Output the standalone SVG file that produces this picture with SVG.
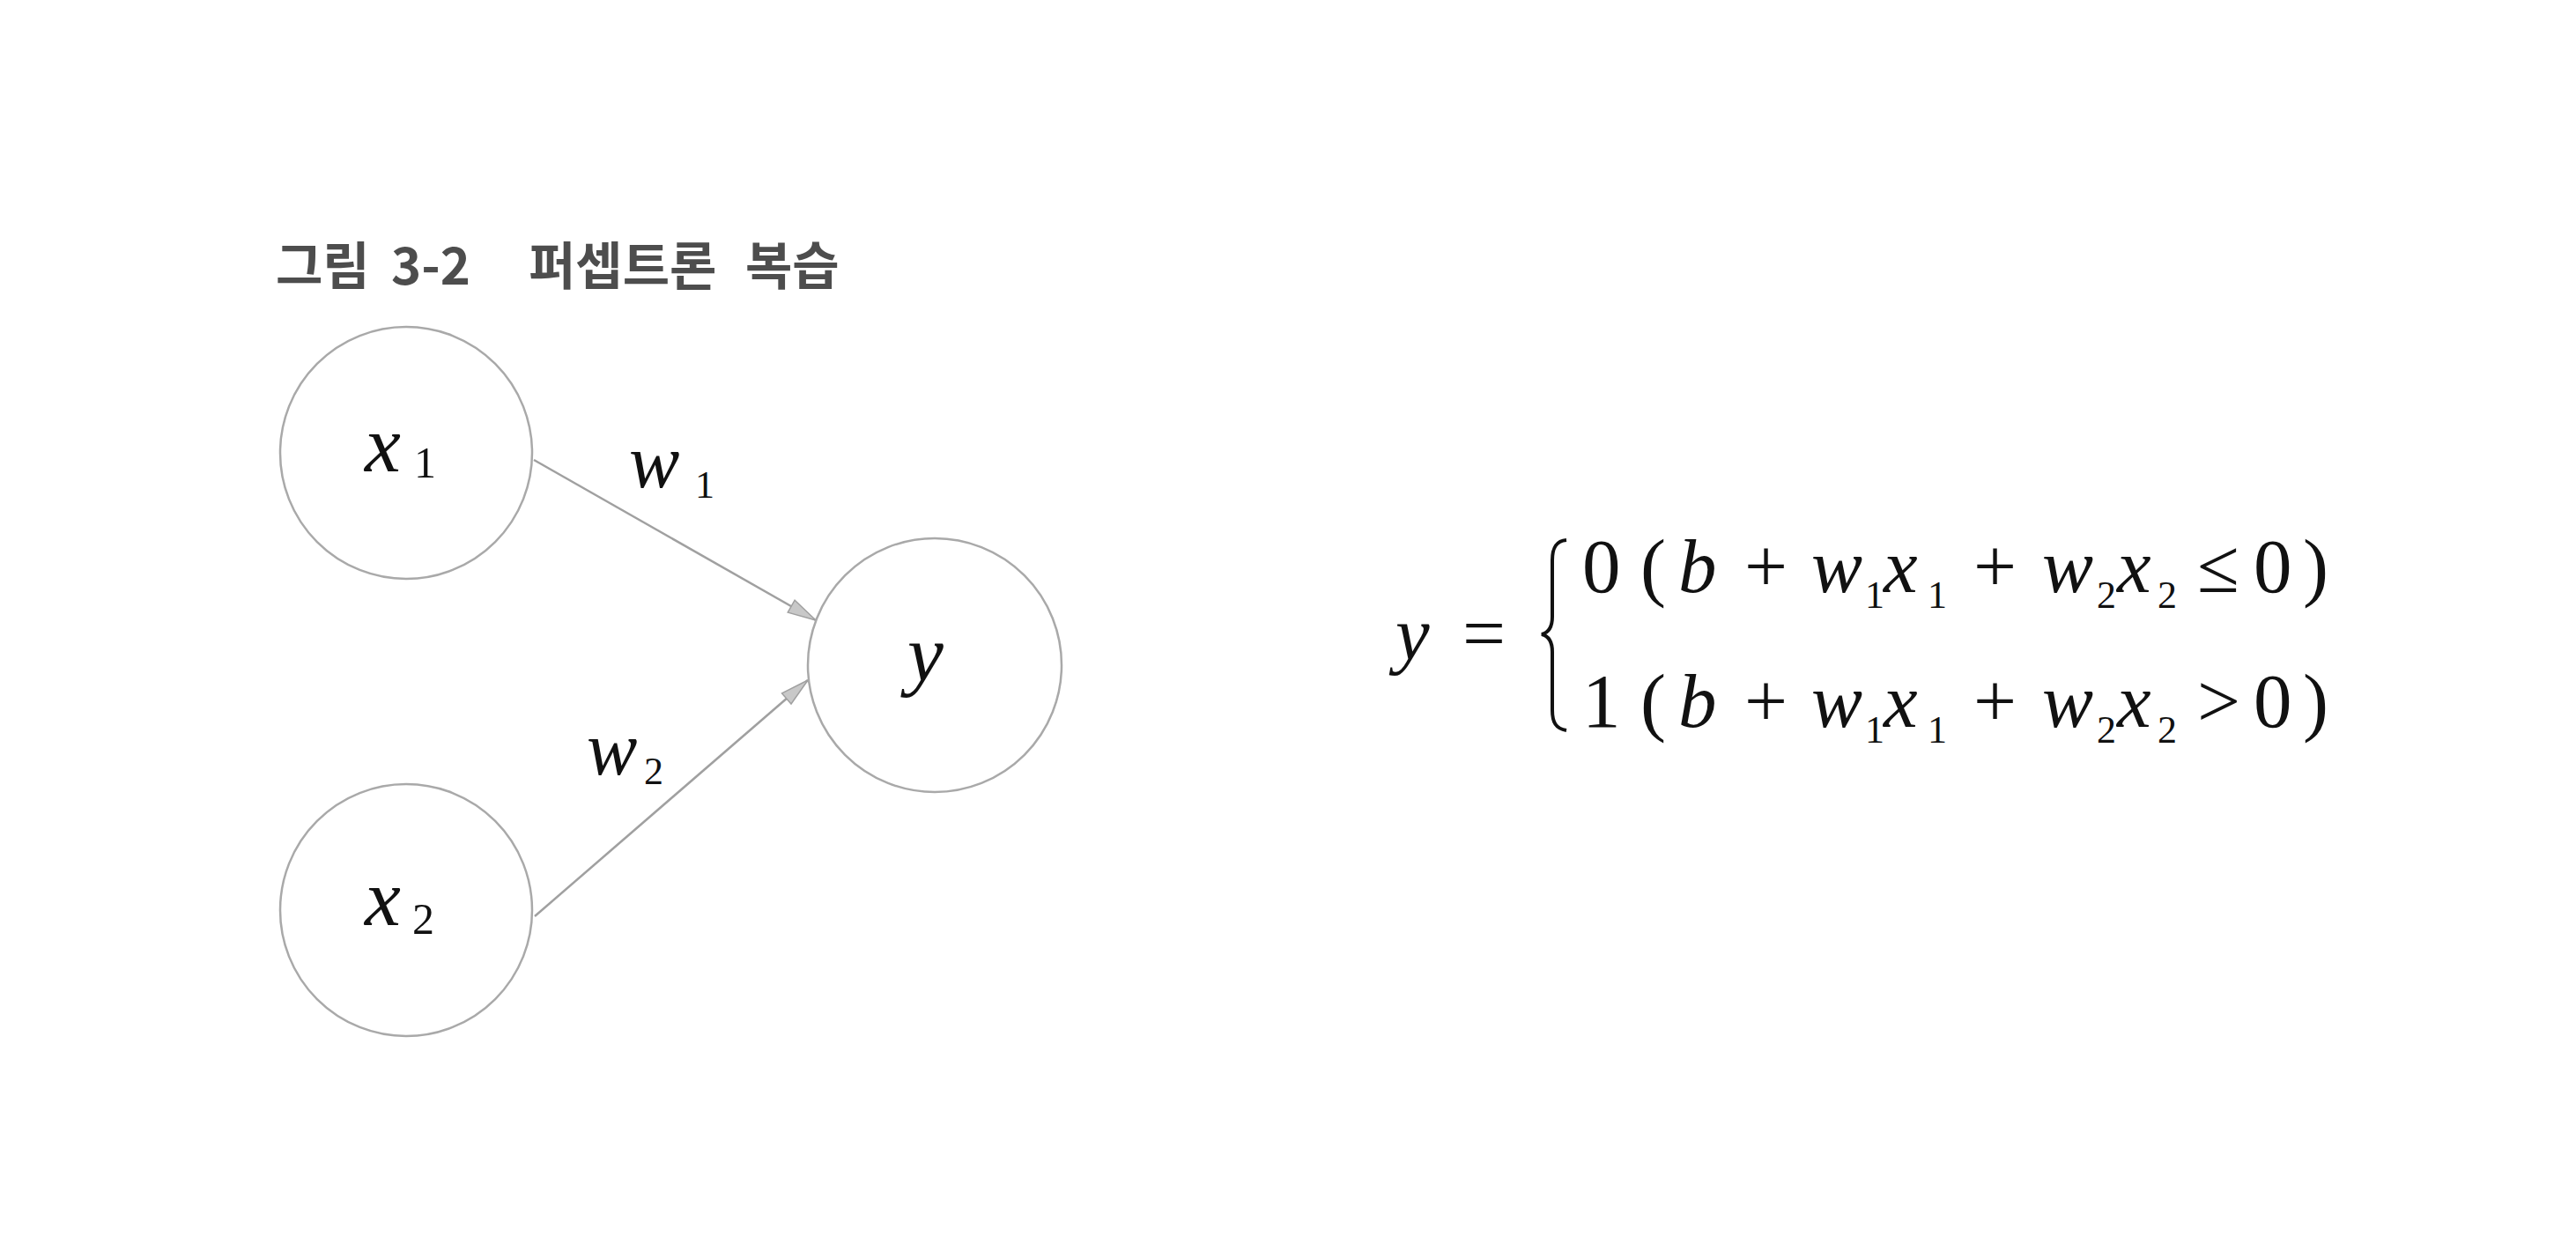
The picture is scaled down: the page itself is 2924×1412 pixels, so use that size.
<svg xmlns="http://www.w3.org/2000/svg" width="2924" height="1412" viewBox="0 0 2924 1412">
<style>
.node{fill:#fff;stroke:#a9a9a9;stroke-width:2.5}
.v{font-family:"Liberation Serif",serif;font-style:italic;fill:#111}
.n{font-family:"Liberation Serif",serif;fill:#111}
.conn{stroke:#a0a0a0;stroke-width:2.5;fill:none}
.title{font-family:"Noto Sans CJK KR","Noto Sans",sans-serif;font-weight:bold;font-size:58px;fill:#4d4d4d}
.eq{font-size:87px}
.sub{font-size:44px}
</style>
<defs>
<marker id="ah" markerUnits="userSpaceOnUse" markerWidth="40" markerHeight="24" refX="34" refY="10" orient="auto">
<path d="M2,2 L34,10 L2,18 Z" fill="#c8c8c8" stroke="#a0a0a0" stroke-width="1.5"/>
</marker>
</defs>
<rect width="2924" height="1412" fill="#fff"/>
<g id="title">
<text class="title" x="313" y="323">그림</text>
<text class="title" x="444" y="323">3-2</text>
<text class="title" x="600" y="323">퍼셉트론</text>
<text class="title" x="846" y="323">복습</text>
</g>
<g id="connectors">
<line class="conn" x1="606" y1="522" x2="926" y2="704" marker-end="url(#ah)"/>
<line class="conn" x1="607" y1="1040" x2="917" y2="772" marker-end="url(#ah)"/>
<text class="v" x="714" y="553" font-size="86">w</text>
<text class="n" x="789" y="565" font-size="44">1</text>
<text class="v" x="666" y="879" font-size="86">w</text>
<text class="n" x="731" y="890" font-size="44">2</text>
</g>
<g id="node-x1">
<circle class="node" cx="461" cy="514" r="143"/>
<text class="v" x="414" y="535" font-size="92">x</text>
<text class="n" x="470" y="542" font-size="50">1</text>
</g>
<g id="node-x2">
<circle class="node" cx="461" cy="1033" r="143"/>
<text class="v" x="414" y="1050" font-size="92">x</text>
<text class="n" x="468" y="1060" font-size="50">2</text>
</g>
<g id="node-y">
<circle class="node" cx="1061" cy="755" r="144"/>
<text class="v" x="1030" y="773" font-size="92">y</text>
</g>
<g id="equation">
<text class="v eq" x="1584" y="748">y</text>
<text class="n eq" x="1660" y="748">=</text>
<path d="M1778,613 C1766,614 1762,622 1762,636 L1762,700 C1762,712 1758,718 1750,720 C1758,722 1762,728 1762,740 L1762,806 C1762,820 1766,827 1778,829" fill="none" stroke="#111" stroke-width="4"/>
<g>
<text class="n eq" x="1796" y="672">0</text>
<text class="n eq" x="1862" y="672">(</text>
<text class="v eq" x="1905" y="672">b</text>
<text class="n eq" x="1980" y="672">+</text>
<text class="v eq" x="2056" y="672">w</text>
<text class="n sub" x="2117" y="690">1</text>
<text class="v eq" x="2138" y="672">x</text>
<text class="n sub" x="2188" y="690">1</text>
<text class="n eq" x="2240" y="672">+</text>
<text class="v eq" x="2318" y="672">w</text>
<text class="n sub" x="2380" y="690">2</text>
<text class="v eq" x="2403" y="672">x</text>
<text class="n sub" x="2449" y="690">2</text>
<text class="n eq" x="2494" y="672">≤</text>
<text class="n eq" x="2558" y="672">0</text>
<text class="n eq" x="2614" y="672">)</text>
</g>
<g>
<text class="n eq" x="1796" y="825">1</text>
<text class="n eq" x="1862" y="825">(</text>
<text class="v eq" x="1905" y="825">b</text>
<text class="n eq" x="1980" y="825">+</text>
<text class="v eq" x="2056" y="825">w</text>
<text class="n sub" x="2117" y="843">1</text>
<text class="v eq" x="2138" y="825">x</text>
<text class="n sub" x="2188" y="843">1</text>
<text class="n eq" x="2240" y="825">+</text>
<text class="v eq" x="2318" y="825">w</text>
<text class="n sub" x="2380" y="843">2</text>
<text class="v eq" x="2403" y="825">x</text>
<text class="n sub" x="2449" y="843">2</text>
<text class="n eq" x="2494" y="825">&gt;</text>
<text class="n eq" x="2558" y="825">0</text>
<text class="n eq" x="2614" y="825">)</text>
</g>
</g>
</svg>
